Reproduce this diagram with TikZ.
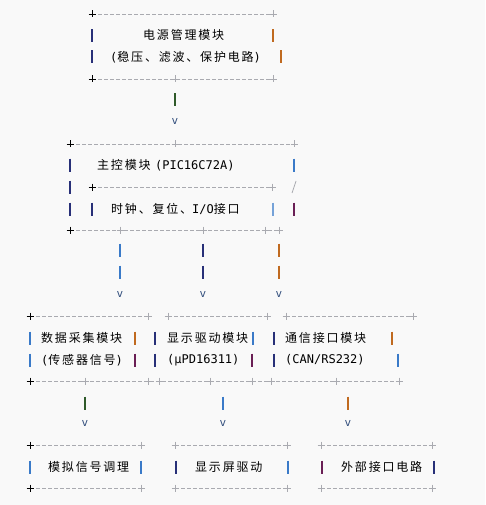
\documentclass[tikz,border=0pt]{standalone}
\usepackage{fontspec}
\newfontfamily\cjk[LetterSpace=15]{Noto Sans CJK SC}
\newfontfamily\mono{DejaVu Sans Mono}
\definecolor{bg}{HTML}{F9F9F9}
\definecolor{dashgray}{HTML}{A9AAB0}
\definecolor{pipeblue}{HTML}{3A7AC8}
\definecolor{pipeorange}{HTML}{C06A20}
\definecolor{pipepurple}{HTML}{6A1F55}
\definecolor{pipenavy}{HTML}{283078}
\definecolor{pipegreen}{HTML}{2F5A2A}
\definecolor{vcol}{HTML}{34507E}
\tikzset{
  edge/.style={dashgray,dash pattern=on 4pt off 2pt,line width=0.8pt},
  txt/.style={font=\cjk\fontsize{12}{14}\selectfont,anchor=west,inner sep=0},
  vtip/.style={font=\mono\fontsize{11}{13}\selectfont,vcol,inner sep=0},
}
\newcommand{\pl}[3]{
  \draw[#3,line width=0.8pt] (#1-3.5,#2)--(#1+3.5,#2) (#1,#2-3.5)--(#1,#2+3.5);}
\newcommand{\vb}[3]{
  \draw[#3,line width=1.1pt] (#1,#2-6.5)--(#1,#2+6.5);}

\begin{document}
\begin{tikzpicture}[x=1pt,y=-1pt]
\fill[bg] (0,0) rectangle (485,505);
\useasboundingbox (0,0) rectangle (485,505);
% power module
\draw[edge] (92,14) -- (273,14);
\pl{92}{14}{black} \pl{273}{14}{dashgray}
\vb{92}{36}{pipenavy} \vb{273}{36}{pipeorange}
\vb{92}{57}{pipenavy} \vb{281}{57}{pipeorange}
\node[txt] (pwr) at (143,35) {电源管理模块};
\node[txt] (pwrsub) at (110,57) {{\mono(}稳压、滤波、保护电路{\mono)}};
\draw[edge] (92,79) -- (273,79);
\pl{92}{79}{black} \pl{175}{79}{dashgray} \pl{273}{79}{dashgray}
% power -> main
\vb{175}{100}{pipegreen}
\node[vtip] (v1) at (175,121) {v};
% main controller
\draw[edge] (70,144) -- (294,144);
\pl{70}{144}{black} \pl{175}{144}{dashgray} \pl{294}{144}{dashgray}
\vb{70}{165}{pipenavy} \vb{294}{165}{pipeblue}
\node[txt] (mcu) at (97,165) {主控模块 {\mono(PIC16C72A)}};
\vb{70}{187}{pipenavy}
\draw[edge] (92,187) -- (272,187);
\pl{92}{187}{black} \pl{272}{187}{dashgray}
\draw[dashgray,line width=0.8pt] (292,193) -- (296,181);
\vb{70}{209}{pipenavy} \vb{92}{209}{pipenavy}
\vb{273}{209}{pipeblue!70} \vb{294}{209}{pipepurple}
\node[txt] (clk) at (111,209) {时钟、复位、{\mono I/O}接口};
\draw[edge] (70,230) -- (279,230);
\pl{70}{230}{black}
\foreach \x in {120,203,265,279}{\pl{\x}{230}{dashgray}}
% main -> sub modules
\foreach \x/\c in {120/pipeblue,203/pipenavy,279/pipeorange}{
  \vb{\x}{250}{\c} \vb{\x}{272}{\c}
  \node[vtip] at (\x,294) {v};}
% data acquisition / display / comm
\draw[edge] (30,316) -- (148,316);
\draw[edge] (168,316) -- (267,316);
\draw[edge] (286,316) -- (413,316);
\pl{30}{316}{black}
\foreach \x in {148,168,267,286,413}{\pl{\x}{316}{dashgray}}
\vb{30}{338}{pipeblue} \vb{135}{338}{pipeorange} \vb{155}{338}{pipenavy}
\vb{253}{338}{pipeblue} \vb{274}{338}{pipenavy} \vb{392}{338}{pipeorange}
\node[txt] (daq) at (41,338) {数据采集模块};
\node[txt] (disp) at (167,338) {显示驱动模块};
\node[txt] (comm) at (285,338) {通信接口模块};
\vb{30}{360}{pipeblue} \vb{135}{360}{pipepurple} \vb{155}{360}{pipenavy}
\vb{252}{360}{pipepurple} \vb{274}{360}{pipenavy} \vb{398}{360}{pipeblue}
\node[txt] (daqsub) at (41,360) {{\mono(}传感器信号{\mono)}};
\node[txt] (dispsub) at (167,360) {\mono(μPD16311)};
\node[txt] (commsub) at (285,360) {\mono(CAN/RS232)};
\draw[edge] (30,381) -- (399,381);
\pl{30}{381}{black}
\foreach \x in {85,148,159,210,252,271,336,399}{\pl{\x}{381}{dashgray}}
% sub modules -> circuits
\foreach \x/\c in {85/pipegreen,223/pipeblue,348/pipeorange}{
  \vb{\x}{403}{\c}
  \node[vtip] at (\x,423) {v};}
% signal conditioning / screen driver / external interface
\foreach \a/\b in {30/141,175/287,321/432}{
  \draw[edge] (\a,445) -- (\b,445);
  \draw[edge] (\a,488) -- (\b,488);
  \pl{\b}{445}{dashgray} \pl{\b}{488}{dashgray}}
\pl{30}{445}{black} \pl{30}{488}{black}
\pl{175}{445}{dashgray} \pl{175}{488}{dashgray}
\pl{321}{445}{dashgray} \pl{321}{488}{dashgray}
\vb{30}{467}{pipeblue} \vb{141}{467}{pipeblue} \vb{176}{467}{pipenavy}
\vb{288}{467}{pipeblue} \vb{322}{467}{pipepurple} \vb{434}{467}{pipenavy}
\node[txt] (cond) at (48,467) {模拟信号调理};
\node[txt] (lcd) at (195,467) {显示屏驱动};
\node[txt] (ext) at (341,467) {外部接口电路};
\end{tikzpicture}
\end{document}
